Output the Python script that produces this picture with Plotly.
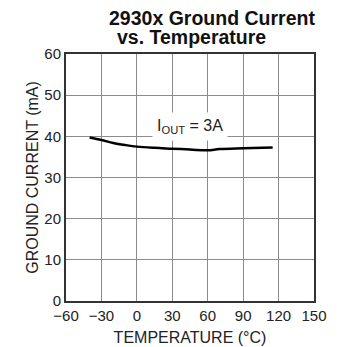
import plotly.graph_objects as go

# ground current vs temperature, IOUT = 3A
temperature = [-40, -30, -20, -10, 0, 15, 30, 45, 60, 70, 90, 115]
ground_current = [39.7, 39.1, 38.4, 37.9, 37.5, 37.2, 37.0, 36.8, 36.6, 36.9, 37.1, 37.3]

x_ticks = [-60, -30, 0, 30, 60, 90, 120, 150]
y_ticks = [0, 10, 20, 30, 40, 50, 60]

font = "Liberation Sans, Arial, sans-serif"

fig = go.Figure()
fig.add_trace(
    go.Scatter(
        x=temperature,
        y=ground_current,
        mode="lines",
        line={"color": "black", "width": 2.5, "shape": "spline"},
        hovertemplate="Temperature: %{x} °C<br>Ground current: %{y} mA<extra></extra>",
    )
)

fig.add_annotation(
    x=45, y=42.5, xref="x", yref="y",
    text="I<sub>OUT</sub> = 3A",
    showarrow=False,
    font={"size": 16, "color": "#222", "family": font},
    bgcolor="white",
    borderpad=4,
)

# two-line title placed by hand
fig.add_annotation(
    x=0.59, y=1.0, xref="paper", yref="paper", yshift=36,
    text="<b>2930x Ground Current</b>",
    showarrow=False, xanchor="center", yanchor="middle",
    font={"size": 19.5, "color": "#111", "family": font},
    borderpad=0,
)
fig.add_annotation(
    x=0.505, y=1.0, xref="paper", yref="paper", yshift=17,
    text="<b>vs. Temperature</b>",
    showarrow=False, xanchor="center", yanchor="middle",
    font={"size": 19.5, "color": "#111", "family": font},
    borderpad=0,
)

axis_style = dict(
    showgrid=True,
    gridcolor="#8c8c8c",
    gridwidth=1,
    showline=True,
    linecolor="#333",
    linewidth=2,
    mirror=True,
    ticks="",
    zeroline=False,
    tickfont={"size": 15, "color": "#222", "family": font},
)

fig.update_xaxes(
    range=[-60, 150],
    tickvals=x_ticks,
    title={"text": "TEMPERATURE (°C)", "font": {"size": 16, "color": "#222", "family": font}, "standoff": 9},
    **axis_style,
)
fig.update_yaxes(
    range=[0, 60],
    tickvals=y_ticks,
    title={"text": "GROUND CURRENT (mA)", "font": {"size": 16, "color": "#222", "family": font}, "standoff": 2},
    **axis_style,
)

# page body adds 8px, so the figure is a bit smaller than the window
fig.update_layout(
    width=329,
    height=339,
    margin={"l": 58, "r": 23, "t": 46, "b": 46, "autoexpand": False},
    paper_bgcolor="white",
    plot_bgcolor="white",
    showlegend=False,
    font={"family": font},
)

fig.write_html("out.html")
